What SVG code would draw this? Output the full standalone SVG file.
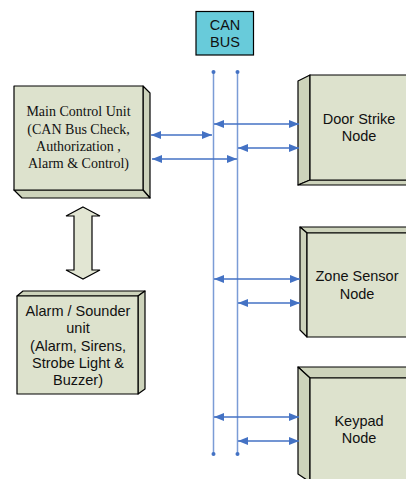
<svg xmlns="http://www.w3.org/2000/svg" width="406" height="479" viewBox="0 0 406 479">
<style>
.face{fill:#DDE2CD;stroke:#000;stroke-width:1.2;stroke-linejoin:round}
.side{fill:#CDD3BB;stroke:#000;stroke-width:1.2;stroke-linejoin:round}
.sans{font-family:"Liberation Sans",Arial,sans-serif;font-size:14.5px;fill:#111;text-anchor:middle}
.serif{font-family:"Liberation Serif","Times New Roman",serif;font-size:14px;fill:#111;text-anchor:middle}
.bus{stroke:#7B9CD6;stroke-width:1.5;fill:none}
.link{stroke:#4472C4;stroke-width:1.3;fill:none;marker-start:url(#ah);marker-end:url(#ah)}
</style>
<defs>
<marker id="ah" viewBox="0 0 10 8" refX="10" refY="4" markerWidth="10" markerHeight="8" markerUnits="userSpaceOnUse" orient="auto-start-reverse">
<path d="M0,0 L10,4 L0,8 Z" fill="#4472C4"/>
</marker>
</defs>
<rect width="406" height="479" fill="#fff"/>

<g id="can-bus">
<rect x="196" y="11.5" width="57.5" height="43.5" fill="#68CBDA" stroke="#000" stroke-width="1.2"/>
<text class="sans" x="225" y="30" font-size="14px">CAN</text>
<text class="sans" x="225" y="47" font-size="14px">BUS</text>
</g>

<g id="main-control-unit">
<polygon class="side" points="143,86 150,93 150,198 143,190"/>
<polygon class="side" points="14,190 143,190 150,198 22,198"/>
<rect class="face" x="14" y="86" width="129" height="104"/>
<text class="serif" x="78.5" y="116">Main Control Unit</text>
<text class="serif" x="78.5" y="134">(CAN Bus Check,</text>
<text class="serif" x="78.5" y="151">Authorization ,</text>
<text class="serif" x="78.5" y="168">Alarm &amp; Control)</text>
</g>

<g id="double-arrow">
<polygon points="83,207 100,216 92,216 92,270 100,270 83,279 66,270 74,270 74,216 66,216" fill="#E2E6D3" stroke="#000" stroke-width="1.2" stroke-linejoin="miter"/>
</g>

<g id="alarm-sounder-unit">
<polygon class="side" points="17,296 23,291 145,291 138,296"/>
<polygon class="side" points="138,296 145,291 145,389 138,394"/>
<rect class="face" x="17" y="296" width="121" height="98"/>
<text class="sans" x="78" y="316">Alarm / Sounder</text>
<text class="sans" x="78" y="333">unit</text>
<text class="sans" x="78" y="351">(Alarm, Sirens,</text>
<text class="sans" x="78" y="368">Strobe Light &amp;</text>
<text class="sans" x="78" y="385">Buzzer)</text>
</g>

<g id="door-strike-node">
<polygon class="side" points="298,81 310,75 310,180 298,185"/>
<polygon class="side" points="298,185 310,180 407,180 407,185"/>
<rect class="face" x="310" y="75" width="98" height="105"/>
<text class="sans" x="359" y="124">Door Strike</text>
<text class="sans" x="359" y="141">Node</text>
</g>

<g id="zone-sensor-node">
<polygon class="side" points="300,227 407,227 407,233 307,233"/>
<polygon class="side" points="300,227 307,233 307,337 300,330"/>
<rect class="face" x="307" y="233" width="101" height="104"/>
<text class="sans" x="357" y="281">Zone Sensor</text>
<text class="sans" x="357" y="299">Node</text>
</g>

<g id="keypad-node">
<polygon class="side" points="298,367 407,367 407,378 310,378"/>
<polygon class="side" points="298,367 310,378 310,482 298,474"/>
<rect class="face" x="310" y="378" width="98" height="104"/>
<text class="sans" x="359" y="426">Keypad</text>
<text class="sans" x="359" y="443">Node</text>
</g>

<g id="connectors">
<line class="bus" x1="213.5" y1="72" x2="213.5" y2="454"/>
<line class="bus" x1="237.5" y1="72" x2="237.5" y2="454"/>
<circle cx="213.5" cy="72" r="2" fill="#4472C4"/>
<circle cx="237.5" cy="72" r="2" fill="#4472C4"/>
<circle cx="213.5" cy="454" r="2" fill="#4472C4"/>
<circle cx="237.5" cy="454" r="2" fill="#4472C4"/>
<line class="link" x1="151" y1="135" x2="212" y2="135"/>
<line class="link" x1="152" y1="159" x2="237" y2="159"/>
<line class="link" x1="214" y1="124" x2="299" y2="124"/>
<line class="link" x1="238" y1="148" x2="299" y2="148"/>
<line class="link" x1="214" y1="279" x2="300" y2="279"/>
<line class="link" x1="238" y1="303" x2="300" y2="303"/>
<line class="link" x1="214" y1="417" x2="299" y2="417"/>
<line class="link" x1="238" y1="441" x2="299" y2="441"/>
</g>
</svg>
